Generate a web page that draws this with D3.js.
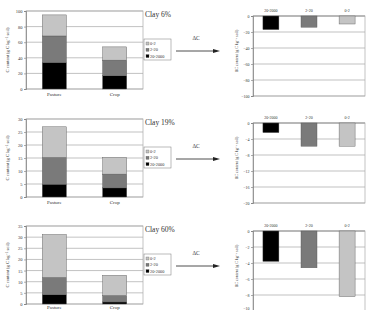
<!DOCTYPE html>
<html>
<head>
<meta charset="utf-8">
<script src="https://cdn.jsdelivr.net/npm/d3@7"></script>
<style>
body { margin: 0; background: #fff; }
text { font-family: "Liberation Serif", "DejaVu Serif", serif; fill: #333; }
</style>
</head>
<body>
<div id="chart"></div>
<script>
// Data
const clays = ["Clay 6%", "Clay 19%", "Clay 60%"];
const landUses = ["Pasture", "Crop"];
const fractions = ["20-2000", "2-20", "0-2"]; // stacked bottom -> top
const legendLabels = ["0-2", "2-20", "20-2000"];
const pastureC = [[34, 34, 27], [4.9, 10.3, 11.8], [4.2, 7.7, 19.3]];
const cropC = [[17, 20, 17], [3.5, 5.3, 6.4], [0.9, 2.9, 9.1]];
const deltaC = [[-17, -14, -10], [-2.4, -5.8, -5.8], [-3.8, -4.6, -8.2]];
const leftMax = [100, 30, 35];
const leftStep = [20, 5, 5];
const rightMin = [-100, -20, -10];
const rightStep = [20, 4, 2];

const colors = { "20-2000": "#000000", "2-20": "#7a7a7a", "0-2": "#c4c4c4" };

// Layout
const W = 373, H = 310;
const leftX = [26, 143];
const rightX = [253, 365];
const leftTop = [11, 119, 226];
const leftH = 78;
const rightTop = [16, 123, 231];
const rightH = 80;

const svg = d3.select("#chart")
  .append("svg")
  .attr("width", W)
  .attr("height", H);

const xLeft = d3.scaleBand()
  .domain(landUses)
  .range(leftX)
  .paddingInner(0.6)
  .paddingOuter(0.27);

const xRight = d3.scaleBand()
  .domain(fractions)
  .range(rightX)
  .paddingInner(0.58)
  .paddingOuter(0.26);

clays.forEach((clay, i) => {
  // ---- left stacked panel
  const y = d3.scaleLinear()
    .domain([0, leftMax[i]])
    .range([leftTop[i] + leftH, leftTop[i]]);
  const ticks = d3.range(0, leftMax[i] + 0.001, leftStep[i]);

  const g = svg.append("g");

  g.append("g")
    .selectAll("line")
    .data(ticks)
    .enter()
    .append("line")
    .attr("x1", leftX[0]).attr("x2", leftX[1])
    .attr("y1", d => y(d)).attr("y2", d => y(d))
    .attr("stroke", "#a8a8a8")
    .attr("stroke-width", 0.7);

  g.append("rect")
    .attr("x", leftX[0]).attr("y", leftTop[i])
    .attr("width", leftX[1] - leftX[0]).attr("height", leftH)
    .attr("fill", "none")
    .attr("stroke", "#a8a8a8")
    .attr("stroke-width", 0.7);

  const yAxis = g.append("g")
    .attr("transform", `translate(${leftX[0]},0)`)
    .call(d3.axisLeft(y).tickValues(ticks).tickSize(2).tickPadding(1.5));
  yAxis.select(".domain").attr("stroke", "#777").attr("stroke-width", 0.7);
  yAxis.selectAll(".tick line").attr("stroke", "#777").attr("stroke-width", 0.6);
  yAxis.selectAll("text").style("font-size", "4.5px").attr("fill", "#444");

  const rows = [pastureC[i], cropC[i]];
  rows.forEach((vals, j) => {
    let base = 0;
    vals.forEach((v, k) => {
      g.append("rect")
        .attr("x", xLeft(landUses[j]))
        .attr("y", y(base + v))
        .attr("width", xLeft.bandwidth())
        .attr("height", y(base) - y(base + v))
        .attr("fill", colors[fractions[k]])
        .attr("stroke", "#555")
        .attr("stroke-width", 0.4);
      base += v;
    });
  });

  g.selectAll(".cat")
    .data(landUses)
    .enter()
    .append("text")
    .attr("x", d => xLeft(d) + xLeft.bandwidth() / 2)
    .attr("y", Math.min(leftTop[i] + leftH + 7, H - 1.5))
    .attr("text-anchor", "middle")
    .style("font-size", "5px")
    .text(d => d);

  g.append("text")
    .attr("transform", `translate(9,${leftTop[i] + leftH / 2}) rotate(-90)`)
    .attr("text-anchor", "middle")
    .style("font-size", "4.5px")
    .text("C content (g C kg\u207B\u00B9 soil)");

  // title
  g.append("text")
    .attr("x", 145)
    .attr("y", leftTop[i] + 6)
    .style("font-size", "7.5px")
    .text(clay);

  // legend
  const lg = g.append("g")
    .attr("transform", `translate(144,${leftTop[i] + 28})`);
  lg.append("rect")
    .attr("width", 27).attr("height", 21)
    .attr("fill", "#fff")
    .attr("stroke", "#777")
    .attr("stroke-width", 0.5);
  legendLabels.forEach((lab, k) => {
    lg.append("rect")
      .attr("x", 2).attr("y", 3 + k * 6.3)
      .attr("width", 3).attr("height", 3)
      .attr("fill", colors[lab])
      .attr("stroke", "#555")
      .attr("stroke-width", 0.3);
    lg.append("text")
      .attr("x", 6).attr("y", 6 + k * 6.3)
      .style("font-size", "4.3px")
      .text(lab);
  });

  // arrow
  const ay = leftTop[i] + 40;
  g.append("line")
    .attr("x1", 176).attr("x2", 214)
    .attr("y1", ay).attr("y2", ay)
    .attr("stroke", "#222")
    .attr("stroke-width", 0.8);
  g.append("path")
    .attr("d", d3.line()([[213, ay - 2], [220, ay], [213, ay + 2]]) + "Z")
    .attr("fill", "#222");
  g.append("text")
    .attr("x", 196)
    .attr("y", ay - 11)
    .attr("text-anchor", "middle")
    .style("font-size", "5.5px")
    .text("\u0394C");

  // ---- right delta panel
  const yr = d3.scaleLinear()
    .domain([rightMin[i], 0])
    .range([rightTop[i] + rightH, rightTop[i]]);
  const rticks = d3.range(0, rightMin[i] - 0.001, -rightStep[i]);

  const r = svg.append("g");

  r.append("g")
    .selectAll("line")
    .data(rticks)
    .enter()
    .append("line")
    .attr("x1", rightX[0]).attr("x2", rightX[1])
    .attr("y1", d => yr(d)).attr("y2", d => yr(d))
    .attr("stroke", d => d === 0 ? "#777" : "#a8a8a8")
    .attr("stroke-width", d => d === 0 ? 0.9 : 0.7);

  r.append("rect")
    .attr("x", rightX[0]).attr("y", rightTop[i])
    .attr("width", rightX[1] - rightX[0]).attr("height", rightH)
    .attr("fill", "none")
    .attr("stroke", "#a8a8a8")
    .attr("stroke-width", 0.7);

  const yrAxis = r.append("g")
    .attr("transform", `translate(${rightX[0]},0)`)
    .call(d3.axisLeft(yr).tickValues(rticks).tickSize(2).tickPadding(1.5));
  yrAxis.select(".domain").attr("stroke", "#777").attr("stroke-width", 0.7);
  yrAxis.selectAll(".tick line").attr("stroke", "#777").attr("stroke-width", 0.6);
  yrAxis.selectAll("text").style("font-size", "4px").attr("fill", "#444");
  // keep the lowest label of the last panel inside the picture
  yrAxis.selectAll(".tick")
    .filter(d => yr(d) > H - 3)
    .select("text")
    .attr("dy", null)
    .attr("y", d => H - 1 - yr(d));

  r.selectAll(".dbar")
    .data(deltaC[i])
    .enter()
    .append("rect")
    .attr("x", (d, k) => xRight(fractions[k]))
    .attr("y", yr(0))
    .attr("width", xRight.bandwidth())
    .attr("height", d => yr(d) - yr(0))
    .attr("fill", (d, k) => colors[fractions[k]])
    .attr("stroke", "#555")
    .attr("stroke-width", 0.4);

  r.selectAll(".flab")
    .data(fractions)
    .enter()
    .append("text")
    .attr("x", d => xRight(d) + xRight.bandwidth() / 2)
    .attr("y", rightTop[i] - 4)
    .attr("text-anchor", "middle")
    .style("font-size", "4px")
    .text(d => d);

  r.append("text")
    .attr("transform", `translate(238,${rightTop[i] + 35}) rotate(-90)`)
    .attr("text-anchor", "middle")
    .style("font-size", "4px")
    .text("\u0394C content (g C kg\u207B\u00B9 soil)");
});
</script>
</body>
</html>
